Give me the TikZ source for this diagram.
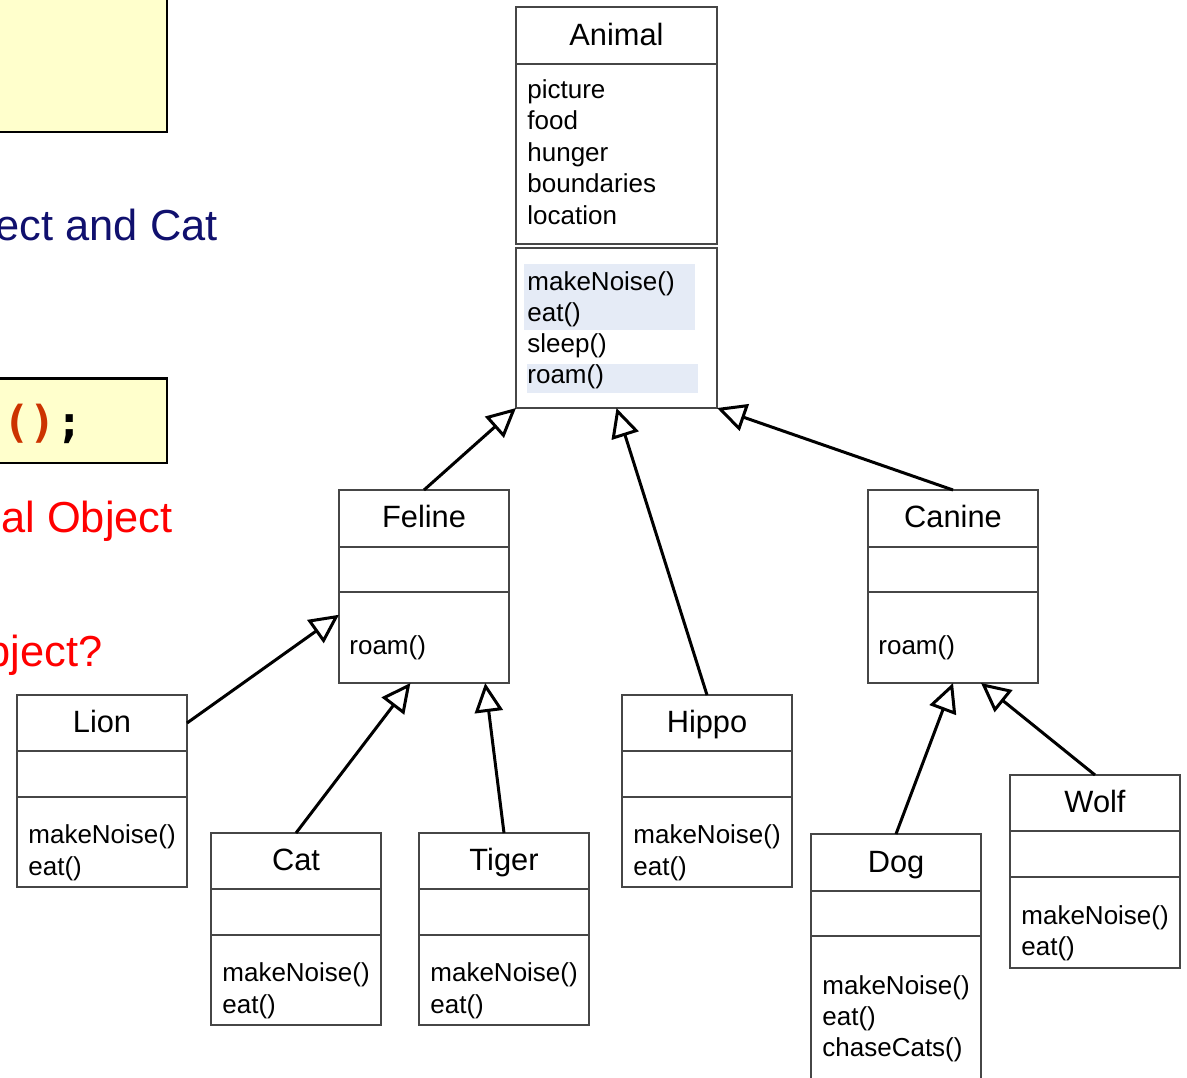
\documentclass[tikz,border=0pt]{standalone}
\usepackage{fontspec}
\setmainfont{Liberation Sans}
\newfontfamily\codefont{DejaVu Sans Mono}
\usetikzlibrary{arrows.meta,fit,calc}
\definecolor{boxgray}{RGB}{70,70,70}
\definecolor{hlblue}{RGB}{229,235,246}
\definecolor{paleyellow}{RGB}{255,255,204}
\definecolor{navytext}{RGB}{16,16,110}
\definecolor{codeorange}{RGB}{204,51,0}
\newcommand\ttlfont{\fontsize{15.4}{18}\selectfont}
\newcommand\txtfont{\fontsize{13}{15.6}\selectfont}
\newcommand\bigfont{\fontsize{21.7}{25}\selectfont}
\newcommand\cdfont{\codefont\bfseries\fontsize{22}{26}\selectfont}
\tikzset{
  sec/.style={draw=boxgray, line width=0.6pt, inner sep=0pt, outer sep=0pt, fill=white},
  ttl/.style={font=\ttlfont, anchor=base, inner sep=0pt},
  txt/.style={font=\txtfont, anchor=base west, inner sep=0pt},
  big/.style={font=\bigfont, anchor=base east, inner sep=0pt},
  ybox/.style={draw=black, line width=1.35pt, fill=paleyellow, inner sep=0pt, outer sep=0pt},
  hl/.style={fill=hlblue},
  inh/.style={draw=black, line width=1.5pt, -{Triangle[length=14.5pt,width=14pt,fill=white]}},
}
\begin{document}
\begin{tikzpicture}[x=0.5pt,y=-0.5pt]
\useasboundingbox (0,0) rectangle (1187,1077);
\clip (0,0) rectangle (1187,1077);

% left slide fragments
\node[ybox, fit={(-10,-10) (167,132)}] (yb1) {};
\node[ybox, fit={(-10,378.5) (167,463)}] (yb2) {};
\node[font=\cdfont, anchor=base west, inner sep=0pt] (code) at (3,437) {\textcolor{codeorange}{()};};
\node[big, text=navytext] (t1) at (218,240) {ect and Cat};
\node[big, text=red] (t2) at (173,532) {al Object};
\node[big, text=red] (t3) at (103,666) {bject?};

% Animal
\node[sec, fit={(516,7) (717,64)}] (animal) {};
\node[sec, fit={(516,64) (717,244)}] (animal-a) {};
\node[sec, fit={(516,248) (717,408)}] (animal-m) {};
\fill[hl] (524,264) rectangle (695,330);
\fill[hl] (527,364) rectangle (698,393);
\node[ttl] (animal-t) at (616.5,45) {Animal};
\node[txt] (aa1) at (527,98) {picture};
\node[txt] (aa2) at (527,129.5) {food};
\node[txt] (aa3) at (527,161) {hunger};
\node[txt] (aa4) at (527,192.5) {boundaries};
\node[txt] (aa5) at (527,224) {location};
\node[txt] (am1) at (527,290) {makeNoise()};
\node[txt] (am2) at (527,321) {eat()};
\node[txt] (am3) at (527,352) {sleep()};
\node[txt] (am4) at (527,383) {roam()};

% Feline
\node[sec, fit={(339,490) (509,547)}] (feline) {};
\node[sec, fit={(339,547) (509,592)}] (feline-a) {};
\node[sec, fit={(339,592) (509,683)}] (feline-m) {};
\node[ttl] (feline-t) at (424,527) {Feline};
\node[txt] (fm1) at (349,654) {roam()};

% Canine
\node[sec, fit={(868,490) (1038,547)}] (canine) {};
\node[sec, fit={(868,547) (1038,592)}] (canine-a) {};
\node[sec, fit={(868,592) (1038,683)}] (canine-m) {};
\node[ttl] (canine-t) at (953,527) {Canine};
\node[txt] (cm1) at (878,654) {roam()};

% Lion
\node[sec, fit={(17,695) (187,751)}] (lion) {};
\node[sec, fit={(17,751) (187,797)}] (lion-a) {};
\node[sec, fit={(17,797) (187,887)}] (lion-m) {};
\node[ttl] (lion-t) at (102,732) {Lion};
\node[txt] (lm1) at (28,843) {makeNoise()};
\node[txt] (lm2) at (28,875) {eat()};

% Cat
\node[sec, fit={(211,833) (381,889)}] (cat) {};
\node[sec, fit={(211,889) (381,935)}] (cat-a) {};
\node[sec, fit={(211,935) (381,1025)}] (cat-m) {};
\node[ttl] (cat-t) at (296,870) {Cat};
\node[txt] (ctm1) at (222,981) {makeNoise()};
\node[txt] (ctm2) at (222,1013) {eat()};

% Tiger
\node[sec, fit={(419,833) (589,889)}] (tiger) {};
\node[sec, fit={(419,889) (589,935)}] (tiger-a) {};
\node[sec, fit={(419,935) (589,1025)}] (tiger-m) {};
\node[ttl] (tiger-t) at (504,870) {Tiger};
\node[txt] (tm1) at (430,981) {makeNoise()};
\node[txt] (tm2) at (430,1013) {eat()};

% Hippo
\node[sec, fit={(622,695) (792,751)}] (hippo) {};
\node[sec, fit={(622,751) (792,797)}] (hippo-a) {};
\node[sec, fit={(622,797) (792,887)}] (hippo-m) {};
\node[ttl] (hippo-t) at (707,732) {Hippo};
\node[txt] (hm1) at (633,843) {makeNoise()};
\node[txt] (hm2) at (633,875) {eat()};

% Dog
\node[sec, fit={(811,834) (981,891)}] (dog) {};
\node[sec, fit={(811,891) (981,936)}] (dog-a) {};
\node[sec, fit={(811,936) (981,1095)}] (dog-m) {};
\node[ttl] (dog-t) at (896,872) {Dog};
\node[txt] (dm1) at (822,994) {makeNoise()};
\node[txt] (dm2) at (822,1025) {eat()};
\node[txt] (dm3) at (822,1056) {chaseCats()};

% Wolf
\node[sec, fit={(1010,775) (1180,831)}] (wolf) {};
\node[sec, fit={(1010,831) (1180,877)}] (wolf-a) {};
\node[sec, fit={(1010,877) (1180,968)}] (wolf-m) {};
\node[ttl] (wolf-t) at (1095,812) {Wolf};
\node[txt] (wm1) at (1021,924) {makeNoise()};
\node[txt] (wm2) at (1021,955) {eat()};

% inheritance arrows
\draw[inh] (feline.north) -- (animal-m.south west);
\draw[inh] (hippo.north) -- (animal-m.south);
\draw[inh] (canine.north) -- (animal-m.south east);
\draw[inh] (lion.east) -- ($(feline-m.north west)!0.25!(feline-m.south west)$);
\draw[inh] (cat.north) -- ($(feline-m.south west)!0.42!(feline-m.south east)$);
\draw[inh] (tiger.north) -- ($(feline-m.south west)!0.86!(feline-m.south east)$);
\draw[inh] (dog.north) -- (canine-m.south);
\draw[inh] (wolf.north) -- ($(canine-m.south west)!0.665!(canine-m.south east)$);
\end{tikzpicture}
\end{document}
